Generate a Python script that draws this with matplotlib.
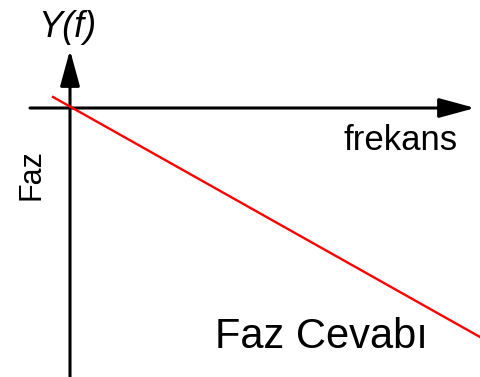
import matplotlib
matplotlib.use("Agg")
import matplotlib.pyplot as plt

plt.rcParams['font.family'] = ['Liberation Sans', 'DejaVu Sans']

# phase response line (frequency vs phase, origin at axes crossing)
freq = [-17, 410]
phase = [11, -229]

# axis extents
x_axis = [-40, 405]
y_axis = [-269, 58]

fig = plt.figure(figsize=(4.8, 3.77), dpi=100)
ax = fig.add_axes([0, 0, 1, 1])
ax.set_xlim(-70, 410)
ax.set_ylim(-269, 108)
ax.axis('off')

arrow = dict(arrowstyle='-|>,head_length=2.2,head_width=0.6', mutation_scale=10,
             lw=2.2, color='black', shrinkA=0, shrinkB=0)
ax.annotate('', xy=(x_axis[1], 0), xytext=(x_axis[0], 0), arrowprops=arrow)
ax.annotate('', xy=(0, y_axis[1]), xytext=(0, y_axis[0]), arrowprops=arrow)

ax.plot(freq, phase, color='#ff0000', lw=1.7, zorder=3)

ax.text(-3, 71, 'Y(f)', fontsize=26, style='italic', ha='center', va='baseline')
ax.text(331, -42, 'frekans', fontsize=25, ha='center', va='baseline')
ax.text(-39, -67, 'Faz', fontsize=22, rotation=90, ha='center', va='center')
ax.text(145, -240, 'Faz Cevabı', fontsize=30, ha='left', va='baseline')

fig.savefig('out.png', dpi=100)
